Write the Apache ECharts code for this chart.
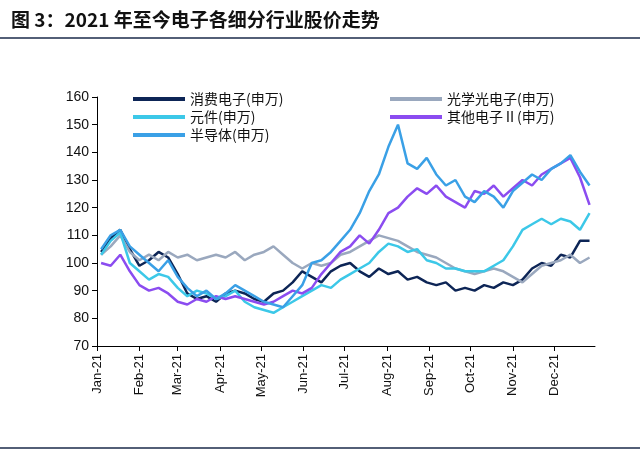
<!DOCTYPE html>
<html><head><meta charset="utf-8">
<script src="https://cdn.jsdelivr.net/npm/echarts@6/dist/echarts.min.js"></script>
<style>html,body{margin:0;padding:0;background:#fff}#c{width:640px;height:455px}</style>
</head><body><div id="c"></div>
<script>
// Weekly observations (Mondays from 2021-01-04)
const semi = [105,110,112,106,103, 100,97,101,95, 91,88,90,87, 89,92,90,88, 86,85,84,88,92, 100,101,104,108, 112,118,126,132,142, 150,136,134,138, 132,128,130,124, 122,126,124,120, 126,129,132,130,134, 136,139,133,128];
const comp = [103,108,111,100,97, 94,96,95,91, 88,90,89,87, 88,90,86,84, 83,82,84,86,88, 90,92,91,94, 96,98,100,104,107, 106,104,105,101, 100,98,98,97, 97,97,99,101, 106,112,114,116,114, 116,115,112,118];
const cons = [104,109,112,105,99, 101,104,102,96, 89,87,88,86, 89,90,89,87, 86,89,90,93,97, 95,93,97,99, 100,97,95,98,96, 97,94,95,93, 92,93,90,91, 90,92,91,93, 92,94,98,100,99, 103,102,108,108];
const optic = [103,106,110,104,101, 103,101,104,102, 103,101,102,103, 102,104,101,103, 104,106,103,100,98, 100,99,100,103, 104,106,108,110,109, 108,106,104,103, 102,100,98,97, 96,97,98,97, 95,93,96,99,100, 101,103,100,102];
const other = [100,99,103,97,92, 90,91,89,86, 85,87,86,88, 87,88,87,86, 85,86,88,90,89, 91,96,100,104, 106,110,107,112,118, 120,124,127,125, 128,124,122,120, 126,125,128,124, 127,130,128,132,134, 136,138,131,121];
const names = ['消费电子(申万)','光学光电子(申万)','元件(申万)','其他电子Ⅱ(申万)','半导体(申万)'];
const colors = ['#0D2556','#9AA8BE','#3CC8E8','#8B4CF0','#3AA0E6'];
const seriesData = [cons, optic, comp, other, semi];
const monthNames = ['Jan','Feb','Mar','Apr','May','Jun','Jul','Aug','Sep','Oct','Nov','Dec'];

const days = [];
const start = new Date(Date.UTC(2021,0,1));
for (let i=0;i<365;i++){const d=new Date(start.getTime()+i*86400000);days.push(d.toISOString().slice(0,10));}
const weekDates = semi.map((_,k)=>days[3+7*k]);
const monthStart = (idx)=>days[idx].slice(8,10)==='01';
const lt = {fontSize:14,color:'#111',fontFamily:'Noto Sans CJK SC'};

const chart = echarts.init(document.getElementById('c'));
chart.setOption({
  animation:false,
  title:{text:'图 3：2021 年至今电子各细分行业股价走势',left:6,top:5,textStyle:{fontSize:19,fontWeight:'bold',color:'#111',fontFamily:'Noto Sans CJK SC'}},
  graphic:[
    {type:'line',shape:{x1:0,y1:38,x2:640,y2:38},style:{stroke:'#1a2a4a',lineWidth:1.5}},
    {type:'line',shape:{x1:0,y1:448,x2:640,y2:448},style:{stroke:'#1a2a4a',lineWidth:1.5}}
  ],
  legend:[
    {data:[names[0],names[2],names[4]],left:128,top:87,orient:'vertical',itemGap:4,itemWidth:52,itemHeight:4,icon:'rect',textStyle:lt},
    {data:[names[1],names[3]],left:385,top:87,orient:'vertical',itemGap:4,itemWidth:52,itemHeight:4,icon:'rect',textStyle:lt}
  ],
  grid:{left:97,right:45,top:97,bottom:109},
  xAxis:{type:'category',data:days,boundaryGap:false,
    axisLine:{lineStyle:{color:'#000'}},
    axisTick:{interval:(i)=>monthStart(i),lineStyle:{color:'#000'},length:5},
    axisLabel:{interval:(i)=>monthStart(i),rotate:90,fontSize:13,color:'#111',fontFamily:'Liberation Sans',
      formatter:(v)=>monthNames[parseInt(v.slice(5,7))-1]+'-21'},
    splitLine:{show:false}},
  yAxis:{type:'value',min:70,max:160,interval:10,
    axisLine:{show:true,lineStyle:{color:'#000'}},axisTick:{show:true,lineStyle:{color:'#000'}},
    axisLabel:{fontSize:14,color:'#111',fontFamily:'Liberation Sans'},splitLine:{show:false}},
  series:names.map((n,i)=>({name:n,type:'line',showSymbol:false,symbol:'none',color:colors[i],
    lineStyle:{width:2.5,color:colors[i]},
    data:seriesData[i].map((v,k)=>[weekDates[k],v])}))
});
</script></body></html>
